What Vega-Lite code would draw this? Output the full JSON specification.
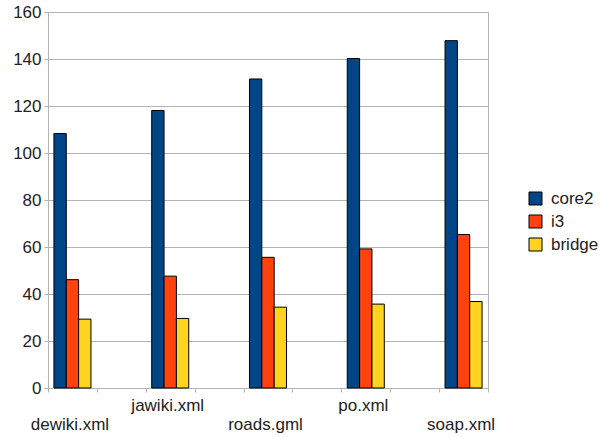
{
  "$schema": "https://vega.github.io/schema/vega-lite/v6.json",
  "width": 440,
  "height": 376,
  "autosize": {"type": "none"},
  "padding": {"left": 48, "top": 12, "right": 119, "bottom": 49},
  "background": "white",
  "config": {
    "font": "Liberation Sans",
    "view": {"stroke": "#b3b3b3", "strokeWidth": 1}
  },
  "data": {
    "values": [
      {"file": "dewiki.xml", "cpu": "core2", "time": 108.3},
      {"file": "dewiki.xml", "cpu": "i3", "time": 46.1},
      {"file": "dewiki.xml", "cpu": "bridge", "time": 29.3},
      {"file": "jawiki.xml", "cpu": "core2", "time": 118.1},
      {"file": "jawiki.xml", "cpu": "i3", "time": 47.6},
      {"file": "jawiki.xml", "cpu": "bridge", "time": 29.6},
      {"file": "roads.gml", "cpu": "core2", "time": 131.5},
      {"file": "roads.gml", "cpu": "i3", "time": 55.6},
      {"file": "roads.gml", "cpu": "bridge", "time": 34.4},
      {"file": "po.xml", "cpu": "core2", "time": 140.2},
      {"file": "po.xml", "cpu": "i3", "time": 59.2},
      {"file": "po.xml", "cpu": "bridge", "time": 35.7},
      {"file": "soap.xml", "cpu": "core2", "time": 147.8},
      {"file": "soap.xml", "cpu": "i3", "time": 65.3},
      {"file": "soap.xml", "cpu": "bridge", "time": 36.8}
    ]
  },
  "mark": {"type": "bar", "stroke": "#000000", "strokeWidth": 1},
  "encoding": {
    "x": {
      "field": "file",
      "type": "nominal",
      "scale": {
        "domain": ["dewiki.xml", "_gap1", "jawiki.xml", "_gap2", "roads.gml", "_gap3", "po.xml", "_gap4", "soap.xml"],
        "paddingInner": 0,
        "paddingOuter": 0
      },
      "axis": {
        "title": null,
        "labelAngle": 0,
        "tickBand": "extent",
        "domainColor": "#b3b3b3",
        "tickColor": "#b3b3b3",
        "tickSize": 4,
        "labelFontSize": 17,
        "labelColor": "#222222",
        "labelPadding": 5,
        "labelOffset": -3,
        "labelLineHeight": 19,
        "labelExpr": "(datum.value == 'jawiki.xml' || datum.value == 'po.xml') ? datum.value : (datum.value == 'dewiki.xml' || datum.value == 'roads.gml' || datum.value == 'soap.xml') ? ['', datum.value] : ''"
      }
    },
    "xOffset": {
      "field": "cpu",
      "type": "nominal",
      "scale": {"domain": ["core2", "i3", "bridge"], "paddingInner": 0, "paddingOuter": 0.48}
    },
    "y": {
      "field": "time",
      "type": "quantitative",
      "scale": {"domain": [0, 160], "nice": false},
      "axis": {
        "title": null,
        "values": [0, 20, 40, 60, 80, 100, 120, 140, 160],
        "grid": true,
        "gridColor": "#b3b3b3",
        "domainColor": "#b3b3b3",
        "tickColor": "#b3b3b3",
        "tickSize": 4,
        "labelFontSize": 17,
        "labelColor": "#222222",
        "labelPadding": 3
      }
    },
    "color": {
      "field": "cpu",
      "type": "nominal",
      "scale": {"domain": ["core2", "i3", "bridge"], "range": ["#004586", "#ff420e", "#ffd320"]},
      "legend": {
        "title": null,
        "orient": "none",
        "legendX": 479,
        "legendY": 178,
        "padding": 0,
        "symbolType": "square",
        "symbolSize": 169,
        "symbolStrokeColor": "#000000",
        "symbolStrokeWidth": 1,
        "labelFontSize": 17,
        "labelColor": "#222222",
        "labelOffset": 7,
        "rowPadding": 5
      }
    }
  }
}
